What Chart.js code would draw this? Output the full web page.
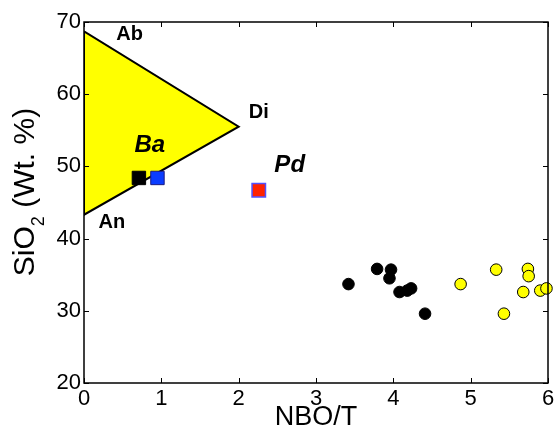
<!DOCTYPE html>
<html>
<head>
<meta charset="utf-8">
<script src="https://cdn.jsdelivr.net/npm/chart.js@4/dist/chart.umd.min.js"></script>
<style>
html, body { margin: 0; padding: 0; background: #fff; }
#wrap { width: 554px; height: 431px; }
</style>
</head>
<body>
<div id="wrap"><canvas id="plot" width="554" height="431"></canvas></div>
<script>
//Data
var triX = [0, 2, 0, 0];
var triY = [68.7, 55.5, 43.3, 68.7];

var baX = [0.71];
var baY = [48.4];
var blueX = [0.95];
var blueY = [48.4];
var pdX = [2.26];
var pdY = [46.7];

var blackX = [3.42, 3.79, 3.97, 3.95, 4.08, 4.18, 4.23, 4.41];
var blackY = [33.7, 35.8, 35.7, 34.5, 32.6, 32.8, 33.1, 29.6];

var yellowX = [4.87, 5.33, 5.74, 5.75, 5.68, 5.43, 5.90, 5.98];
var yellowY = [33.7, 35.7, 35.8, 34.8, 32.6, 29.6, 32.8, 33.1];

var xTicks = [0, 1, 2, 3, 4, 5, 6];
var yTicks = [20, 30, 40, 50, 60, 70];

var noteText = ['Ab', 'Di', 'An', 'Ba', 'Pd'];
var noteX = [0.59, 2.26, 0.36, 0.85, 2.66];
var noteY = [68.3, 57.5, 42.3, 52.9, 50.1];
var noteFont = ['bold 20px "Liberation Sans"', 'bold 20px "Liberation Sans"', 'bold 20px "Liberation Sans"',
	'italic bold 24px "Liberation Sans"', 'italic bold 24px "Liberation Sans"'];

function pts(xs, ys) {
	var out = [];
	for (var i = 0; i < xs.length; i++) {
		out.push({x: xs[i], y: ys[i]});
	}
	return out;
}

//Frame, inward ticks, notes, y title with subscript
var decor = {
	id: 'decor',
	afterDatasetsDraw: function(chart) {
		var ctx = chart.ctx;
		var a = chart.chartArea;
		var xs = chart.scales.x, ys = chart.scales.y;
		ctx.save();
		ctx.strokeStyle = '#000';
		ctx.lineWidth = 1.5;
		ctx.strokeRect(a.left, a.top, a.right - a.left, a.bottom - a.top);
		ctx.lineWidth = 1;
		ctx.beginPath();
		xTicks.forEach(function(v) {
			var px = Math.round(xs.getPixelForValue(v)) + 0.5;
			ctx.moveTo(px, a.bottom); ctx.lineTo(px, a.bottom - 5);
			ctx.moveTo(px, a.top); ctx.lineTo(px, a.top + 5);
		});
		yTicks.forEach(function(v) {
			var py = Math.round(ys.getPixelForValue(v)) + 0.5;
			ctx.moveTo(a.left, py); ctx.lineTo(a.left + 5, py);
			ctx.moveTo(a.right, py); ctx.lineTo(a.right - 5, py);
		});
		ctx.stroke();

		ctx.fillStyle = '#000';
		ctx.textAlign = 'center';
		ctx.textBaseline = 'middle';
		for (var i = 0; i < noteText.length; i++) {
			ctx.font = noteFont[i];
			ctx.fillText(noteText[i], xs.getPixelForValue(noteX[i]), ys.getPixelForValue(noteY[i]));
		}

		//y title
		var big = '30px "Liberation Sans"', small = '18px "Liberation Sans"';
		ctx.translate(34, 192);
		ctx.rotate(-Math.PI / 2);
		ctx.textAlign = 'left';
		ctx.textBaseline = 'alphabetic';
		var p1 = 'SiO', p2 = '2', p3 = ' (Wt. %)';
		ctx.font = big;
		var w1 = ctx.measureText(p1).width;
		var w3 = ctx.measureText(p3).width;
		ctx.font = small;
		var w2 = ctx.measureText(p2).width;
		var x0 = -(w1 + w2 + w3) / 2;
		ctx.font = big;
		ctx.fillText(p1, x0, 0);
		ctx.fillText(p3, x0 + w1 + w2, 0);
		ctx.font = small;
		ctx.fillText(p2, x0 + w1, 10);
		ctx.restore();
	}
};

var chart = new Chart(document.getElementById('plot'), {
	type: 'scatter',
	data: {
		datasets: [{
			data: pts(triX, triY),
			showLine: true,
			fill: 'shape',
			backgroundColor: '#ffff00',
			borderColor: '#000',
			borderWidth: 2,
			pointRadius: 0,
			tension: 0,
			order: 5
		},{
			data: pts(baX, baY),
			pointStyle: 'rect',
			pointRadius: 9.5,
			backgroundColor: '#000',
			borderColor: '#000',
			borderWidth: 1
		},{
			data: pts(blueX, blueY),
			pointStyle: 'rect',
			pointRadius: 9.5,
			backgroundColor: '#0a3cff',
			borderColor: '#1a1a80',
			borderWidth: 1
		},{
			data: pts(pdX, pdY),
			pointStyle: 'rect',
			pointRadius: 9.5,
			backgroundColor: '#ff2200',
			borderColor: '#5050ff',
			borderWidth: 1.5
		},{
			data: pts(blackX, blackY),
			pointRadius: 5.8,
			backgroundColor: '#000',
			borderColor: '#000',
			borderWidth: 1
		},{
			data: pts(yellowX, yellowY),
			pointRadius: 5.8,
			backgroundColor: '#ffff00',
			borderColor: '#000',
			borderWidth: 1,
			clip: false
		}]
	},
	options: {
		responsive: false,
		animation: false,
		layout: {
			autoPadding: false,
			padding: {top: 22, right: 6, left: 0, bottom: 0}
		},
		scales: {
			x: {
				type: 'linear',
				min: 0,
				max: 6,
				afterBuildTicks: function(s) { s.ticks = xTicks.map(function(v) { return {value: v}; }); },
				afterFit: function(s) { s.height = 48; s.paddingLeft = 0; s.paddingRight = 0; },
				grid: { display: false, drawTicks: false },
				border: { display: false },
				ticks: {
					color: '#000',
					padding: 3,
					font: { family: 'Liberation Sans', size: 22 }
				},
				title: {
					display: true,
					text: 'NBO/T',
					color: '#000',
					padding: { top: 0, bottom: 0 },
					font: { family: 'Liberation Sans', size: 27, lineHeight: 1 }
				}
			},
			y: {
				type: 'linear',
				min: 20,
				max: 70,
				afterBuildTicks: function(s) { s.ticks = yTicks.map(function(v) { return {value: v}; }); },
				afterFit: function(s) { s.width = 84; s.paddingTop = 0; s.paddingBottom = 0; },
				grid: { display: false, drawTicks: false },
				border: { display: false },
				ticks: {
					color: '#000',
					padding: 3,
					font: { family: 'Liberation Sans', size: 22 }
				}
			}
		},
		plugins: {
			legend: { display: false },
			tooltip: { enabled: false }
		}
	},
	plugins: [decor]
});
</script>
</body>
</html>
